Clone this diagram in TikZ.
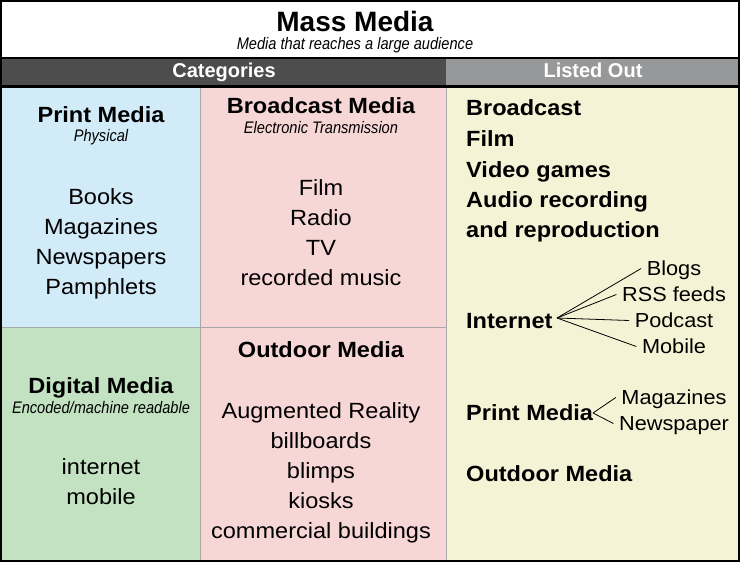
\documentclass[tikz,border=0pt]{standalone}
\usepackage{fontspec}
\setmainfont{Liberation Sans}[FakeStretch=1.07]
\newfontfamily\narrowfont{Liberation Sans}[FakeStretch=0.875]
\newfontfamily\plainfont{Liberation Sans}
\definecolor{cblue}{HTML}{D2EBF8}
\definecolor{cgreen}{HTML}{C2E2C2}
\definecolor{cpink}{HTML}{F7D6D6}
\definecolor{cyellow}{HTML}{F5F3D5}
\definecolor{darkbar}{HTML}{4D4D4D}
\definecolor{lightbar}{HTML}{97989A}
\definecolor{gline}{HTML}{A8A8A8}
\begin{document}
\begin{tikzpicture}[x=1pt,y=-1pt,
  txt/.style={anchor=base,inner sep=0pt,font=\fontsize{22}{26}\selectfont},
  hd/.style={anchor=base,inner sep=0pt,font=\fontsize{22}{26}\selectfont\bfseries},
  lst/.style={anchor=base west,inner sep=0pt,font=\fontsize{22}{26}\selectfont\bfseries},
  subt/.style={anchor=base,inner sep=0pt,font=\narrowfont\fontsize{16.7}{19}\selectfont\itshape},
  barlabel/.style={anchor=base,inner sep=0pt,text=white,font=\plainfont\fontsize{20}{22}\selectfont\bfseries},
  leaf/.style={anchor=base,inner xsep=5.5pt,inner ysep=0pt,text height=13pt,text depth=0pt,font=\fontsize{20.3}{23}\selectfont},
  branch/.style={black,line width=0.8pt},
  sep/.style={gline,line width=1pt}]
\useasboundingbox (0,0) rectangle (740,562);
% fills
\fill[white] (0,0) rectangle (740,58);
\fill[darkbar] (0,58) rectangle (446,86);
\fill[lightbar] (446,58) rectangle (740,86);
\fill[black] (0,57) rectangle (740,58.5);
\fill[black] (0,84.5) rectangle (740,88);
\fill[cblue] (0,88) rectangle (200,327);
\fill[cgreen] (0,327) rectangle (200,562);
\fill[cpink] (200,88) rectangle (446,562);
\fill[cyellow] (446,88) rectangle (740,562);
\draw[sep] (200,88) -- (200,562);
\draw[sep] (0,327) -- (446,327);
\draw[sep] (446,88) -- (446,562);
\draw[line width=2pt] (1,1) rectangle (739,561);
% header
\node[anchor=base,inner sep=0pt,text depth=0pt,font=\plainfont\fontsize{28}{32}\selectfont\bfseries] (title) at (355,31.3) {Mass Media};
\node[subt,text height=11pt] (subtitle) at (355,49.5) {Media that reaches a large audience};
\node[barlabel] (cat) at (224,77.5) {Categories};
\node[barlabel] (listed) at (593,77.5) {Listed Out};
% print media
\node[hd] (pm) at (101,122.5) {Print Media};
\node[subt] (phys) at (101,141.5) {Physical};
\node[txt] (books) at (101,204) {Books};
\node[txt] (mags) at (101,234) {Magazines};
\node[txt] (news) at (101,264) {Newspapers};
\node[txt] (pamph) at (101,294) {Pamphlets};
% digital media
\node[hd] (dm) at (101,393) {Digital Media};
\node[subt] (enc) at (101,413) {Encoded/machine readable};
\node[txt] (inetl) at (101,474) {internet};
\node[txt] (mob) at (101,504) {mobile};
% broadcast media
\node[hd] (bm) at (321,113) {Broadcast Media};
\node[subt] (elec) at (321,133) {Electronic Transmission};
\node[txt] (film) at (321,195) {Film};
\node[txt] (radio) at (321,225) {Radio};
\node[txt] (tv) at (321,255) {TV};
\node[txt] (music) at (321,285) {recorded music};
% outdoor media
\node[hd] (om) at (321,357) {Outdoor Media};
\node[txt] (ar) at (321,418) {Augmented Reality};
\node[txt] (bill) at (321,448) {billboards};
\node[txt] (blimps) at (321,478) {blimps};
\node[txt] (kiosks) at (321,508) {kiosks};
\node[txt] (comm) at (321,538) {commercial buildings};
% listed out
\node[lst] (l1) at (466,115) {Broadcast};
\node[lst] (l2) at (466,146) {Film};
\node[lst] (l3) at (466,177) {Video games};
\node[lst] (l4) at (466,207) {Audio recording};
\node[lst] (l5) at (466,237) {and reproduction};
\node[lst] (internet) at (466,328) {Internet};
\node[lst] (lpm) at (466,420) {Print Media};
\node[lst] (lom) at (466,481) {Outdoor Media};
% branches
\coordinate (ihub) at (557,318);
\coordinate (phub) at (593,413);
\node[leaf] (blogs) at (674,275) {Blogs};
\node[leaf] (rss) at (674,301) {RSS feeds};
\node[leaf] (pod) at (674,327) {Podcast};
\node[leaf] (mobr) at (674,353) {Mobile};
\node[leaf] (magr) at (674,404) {Magazines};
\node[leaf] (newsr) at (674,430) {Newspaper};
\draw[branch] (ihub) -- (blogs.west);
\draw[branch] (ihub) -- (rss.west);
\draw[branch] (ihub) -- (pod.west);
\draw[branch] (ihub) -- (mobr.west);
\draw[branch] (phub) -- (magr.west);
\draw[branch] (phub) -- (newsr.west);
\end{tikzpicture}
\end{document}
